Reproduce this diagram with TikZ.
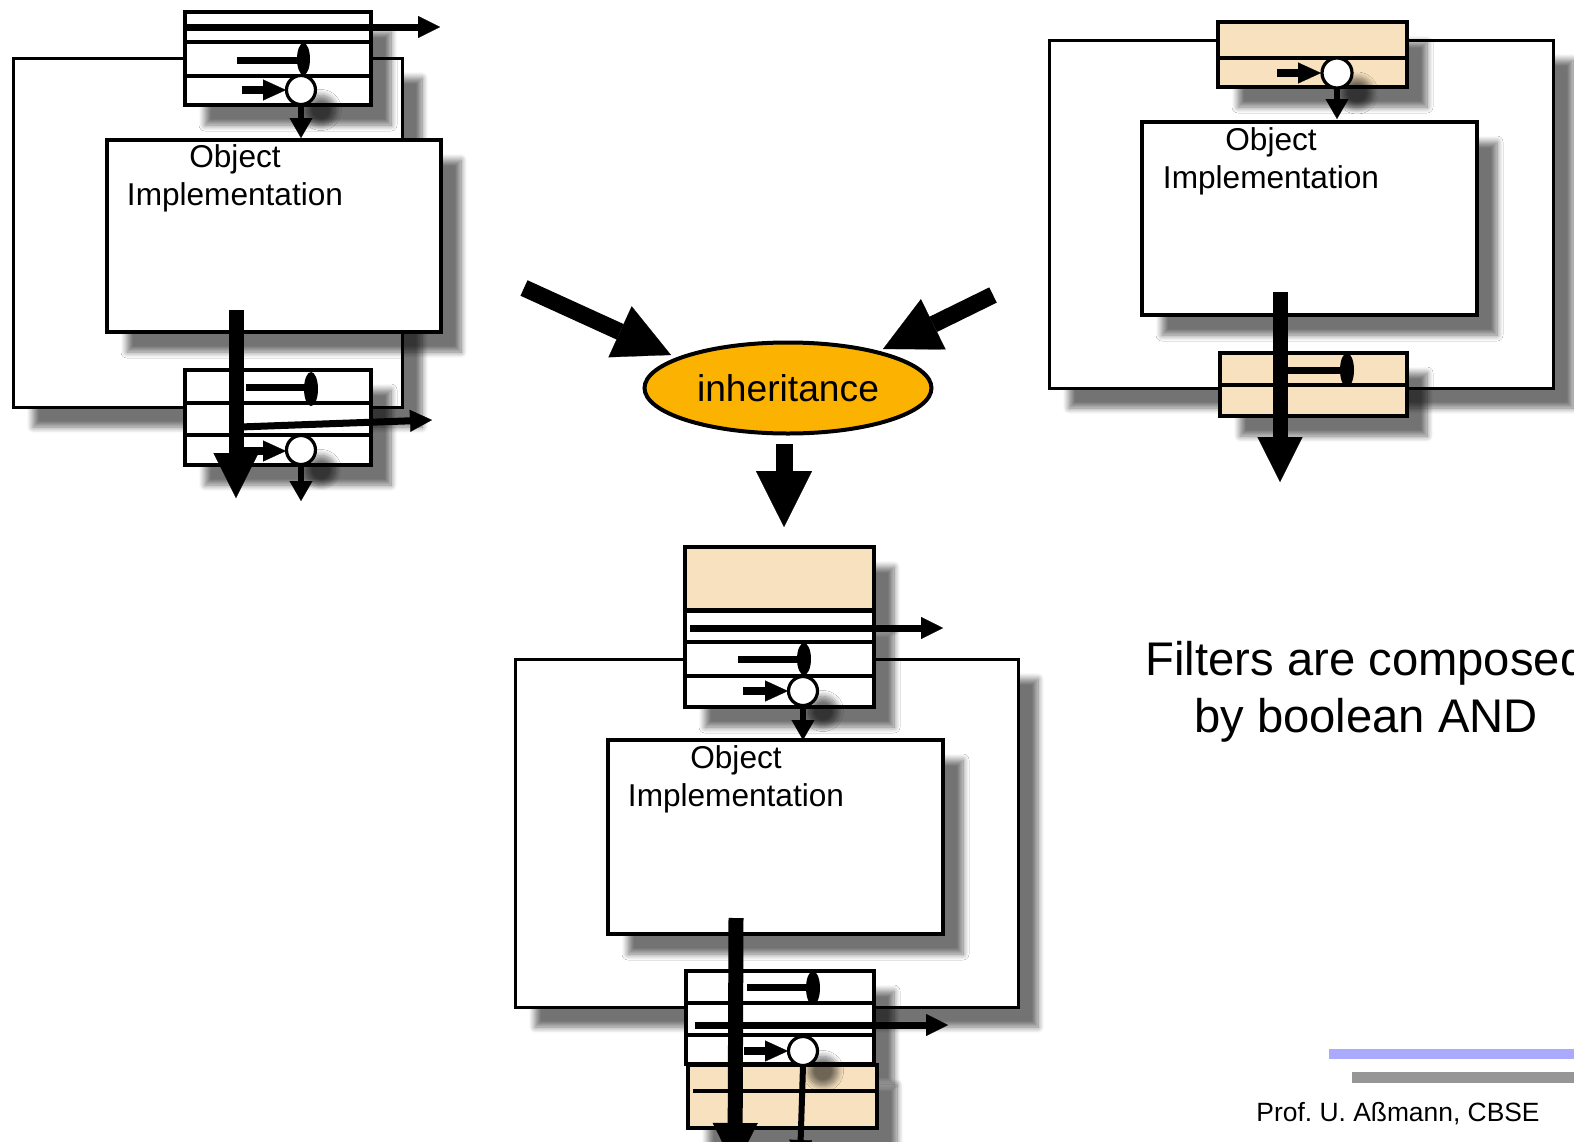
\documentclass[tikz,border=0pt]{standalone}
\usepackage{fontspec}
\setmainfont{Liberation Sans}
\usetikzlibrary{arrows.meta,shapes.geometric,shadows.blur}

\definecolor{filterfill}{RGB}{247,225,190}
\definecolor{inhfill}{RGB}{252,178,0}
\definecolor{barblue}{RGB}{170,170,255}
\definecolor{bargrey}{RGB}{150,150,150}

\tikzset{
  softshadow/.style={blur shadow={shadow xshift=10pt, shadow yshift=-10pt,
      shadow blur radius=3pt, shadow blur steps=10, shadow opacity=55}},
  outerframe/.style={draw, line width=1.5pt, fill=white, softshadow},
  objbox/.style={draw, line width=1.6pt, fill=white, softshadow},
  filterbox/.style={draw, line width=1.8pt, fill=white, softshadow},
  tanbox/.style={draw, line width=1.8pt, fill=filterfill, softshadow},
  rowline/.style={line width=1.6pt},
  passarrow/.style={draw=black, line width=3.5pt,
      -{Triangle[length=11pt,width=11pt,fill=black,color=black,line width=0.1pt]}},
  feedarrow/.style={draw=black, line width=4pt,
      -{Triangle[length=11.5pt,width=10.5pt,fill=black,color=black,line width=0.1pt]}},
  outarrow/.style={draw=black, line width=3pt,
      -{Triangle[length=10pt,width=11.5pt,fill=black,color=black,line width=0.1pt]}},
  stopline/.style={line width=3.5pt},
  gate/.style={draw, line width=1.6pt, fill=white, softshadow},
  bigdown/.style={draw=black, line width=7.5pt,
      -{Triangle[length=22.5pt,width=22.5pt,fill=black,color=black,line width=0.1pt]}},
  hugearrow/.style={draw=black, line width=8.5pt,
      -{Triangle[length=28pt,width=28pt,fill=black,color=black,line width=0.1pt]}},
  % the base anchor of a two-line label is the baseline of its last line
  objlabel/.style={align=center, font=\fontsize{15.8}{19}\selectfont, inner sep=0pt, anchor=base},
}

\begin{document}
\begin{tikzpicture}[x=0.5pt, y=-0.5pt]
\useasboundingbox (0,0) rectangle (1574,1141);

% ---------------- left composite (filters around an object) ----------------
\path[outerframe] (13,58) rectangle (402,407);
\path[objbox] (107,140) rectangle (441,332);
\node[objlabel] (tlText) at (235,205) {Object\\Implementation};
% incoming filter
\path[filterbox] (185,12) rectangle (371,105);
\draw[rowline] (185,42) -- (371,42) (185,76) -- (371,76);
\coordinate (tlPassA) at (186,27);   \coordinate (tlPassB) at (440,27);
\coordinate (tlStopA) at (237,60);   \coordinate (tlStopB) at (303,60);
\coordinate (tlFeedA) at (242,90);   \coordinate (tlGate) at (301,90);
\draw[passarrow] (tlPassA) -- (tlPassB);
\draw[stopline] (tlStopA) -- (tlStopB);
\fill (303.5,59) ellipse [x radius=6.5, y radius=16];
\path[gate] (tlGate) circle (14.5);
\draw[feedarrow] (tlFeedA) -- (286,90);
\coordinate (tlOutA) at (301,105);  \coordinate (tlOutB) at (301,138);
\draw[outarrow] (tlOutA) -- (tlOutB);
% outgoing filter
\path[filterbox] (185,370) rectangle (371,465);
\draw[rowline] (185,403) -- (371,403) (185,435) -- (371,435);
\coordinate (blStopA) at (246,387);  \coordinate (blStopB) at (311,387);
\coordinate (blPassA) at (240,427);  \coordinate (blPassB) at (432,420);
\coordinate (blFeedA) at (243,451);  \coordinate (blGate) at (301,450);
\draw[stopline] (blStopA) -- (blStopB);
\fill (311,389) ellipse [x radius=7, y radius=17];
\draw[passarrow] (blPassA) -- (blPassB);
\path[gate] (blGate) circle (14.5);
\draw[feedarrow] (blFeedA) -- (286,451);
\coordinate (blOutA) at (301,465);  \coordinate (blOutB) at (301,501);
\draw[outarrow] (blOutA) -- (blOutB);
\coordinate (tlBigA) at (236,310);  \coordinate (tlBigB) at (236,498);
\draw[bigdown] (tlBigA) -- (tlBigB);

% ---------------- right composite ----------------
\path[outerframe] (1049,40) rectangle (1553,388);
\path[objbox] (1142,122) rectangle (1477,315);
\node[objlabel] (trText) at (1271,188) {Object\\Implementation};
\path[tanbox] (1218,22) rectangle (1407,87);
\draw[rowline] (1218,58) -- (1407,58);
\coordinate (trFeedA) at (1277,73);  \coordinate (trGate) at (1337,73);
\path[gate] (trGate) circle (15);
\draw[feedarrow] (trFeedA) -- (1321,73);
\coordinate (trOutA) at (1337,88);  \coordinate (trOutB) at (1337,119);
\draw[outarrow] (trOutA) -- (trOutB);
\path[tanbox] (1220,353) rectangle (1407,416);
\draw[rowline] (1220,385) -- (1407,385);
\coordinate (brStopA) at (1283,370);  \coordinate (brStopB) at (1347,370);
\draw[stopline] (brStopA) -- (brStopB);
\fill (1347,370) ellipse [x radius=7, y radius=17];
\coordinate (trBigA) at (1280,292);  \coordinate (trBigB) at (1280,482);
\draw[bigdown] (trBigA) -- (trBigB);

% ---------------- inheritance ----------------
\node[ellipse, draw, line width=2pt, fill=inhfill, minimum width=143.5pt,
      minimum height=45.5pt, inner sep=0pt, font=\fontsize{18.6}{22}\selectfont]
      (inh) at (788,388) {inheritance};
\coordinate (inL) at (524,288);   \coordinate (inLtip) at (671,355);
\coordinate (inR) at (993,295);   \coordinate (inRtip) at (883,349);
\coordinate (outD) at (784,444);  \coordinate (outDtip) at (784,527);
\draw[hugearrow] (inL) -- (inLtip);
\draw[hugearrow] (inR) -- (inRtip);
\draw[hugearrow] (outD) -- (outDtip);

% ---------------- resulting composite ----------------
\path[outerframe] (515,659) rectangle (1018,1007);
\path[objbox] (608,740) rectangle (943,934);
\node[objlabel] (bcText) at (736,806) {Object\\Implementation};
\path[tanbox] (685,547) rectangle (874,610);
\path[filterbox] (685,611) rectangle (874,707);
\draw[rowline] (685,642) -- (874,642) (685,676) -- (874,676);
\coordinate (bcPassA) at (690,628);  \coordinate (bcPassB) at (943,628);
\coordinate (bcStopA) at (738,659);  \coordinate (bcStopB) at (804,659);
\coordinate (bcFeedA) at (743,691);  \coordinate (bcGate) at (803,691);
\draw[passarrow] (bcPassA) -- (bcPassB);
\draw[stopline] (bcStopA) -- (bcStopB);
\fill (804,659) ellipse [x radius=7, y radius=16];
\path[gate] (bcGate) circle (14.5);
\draw[feedarrow] (bcFeedA) -- (788,691);
\coordinate (bcOutA) at (803,706);  \coordinate (bcOutB) at (803,740);
\draw[outarrow] (bcOutA) -- (bcOutB);

\path[filterbox] (686,971) rectangle (874,1064);
\draw[rowline] (686,1003) -- (874,1003) (686,1035) -- (874,1035);
\path[tanbox] (688,1065) rectangle (877,1128);
\draw[rowline] (693,1091) -- (878,1091);
\coordinate (bgStopA) at (747,987);  \coordinate (bgStopB) at (813,987);
\coordinate (bgPassA) at (695,1025); \coordinate (bgPassB) at (948,1025);
\coordinate (bgFeedA) at (744,1051); \coordinate (bgGate) at (803,1051);
\draw[stopline] (bgStopA) -- (bgStopB);
\fill (813,988) ellipse [x radius=7, y radius=17];
\draw[passarrow] (bgPassA) -- (bgPassB);
\path[gate] (bgGate) circle (14.5);
\draw[feedarrow] (bgFeedA) -- (788,1051);
\coordinate (bgOutA) at (803,1066);  \coordinate (bgOutB) at (800,1160);
\draw[outarrow] (bgOutA) -- (bgOutB);
\coordinate (bcBigA) at (736,918);  \coordinate (bcBigB) at (735,1168);
\draw[bigdown] (bcBigA) -- (bcBigB);

% ---------------- caption and footer ----------------
\node[align=center, anchor=base, inner sep=0pt, font=\fontsize{23.6}{28.5}\selectfont]
  (caption) at (1366,732) {Filters are composed\\by boolean AND};
\fill[barblue] (1329,1049) rectangle (1574,1059);
\fill[bargrey] (1352,1072) rectangle (1574,1083);
\node[anchor=base east, inner sep=0pt, font=\fontsize{13.2}{16}\selectfont]
  (footer) at (1540,1121.5) {Prof.\ U.\ Aßmann, CBSE};
\end{tikzpicture}
\end{document}
